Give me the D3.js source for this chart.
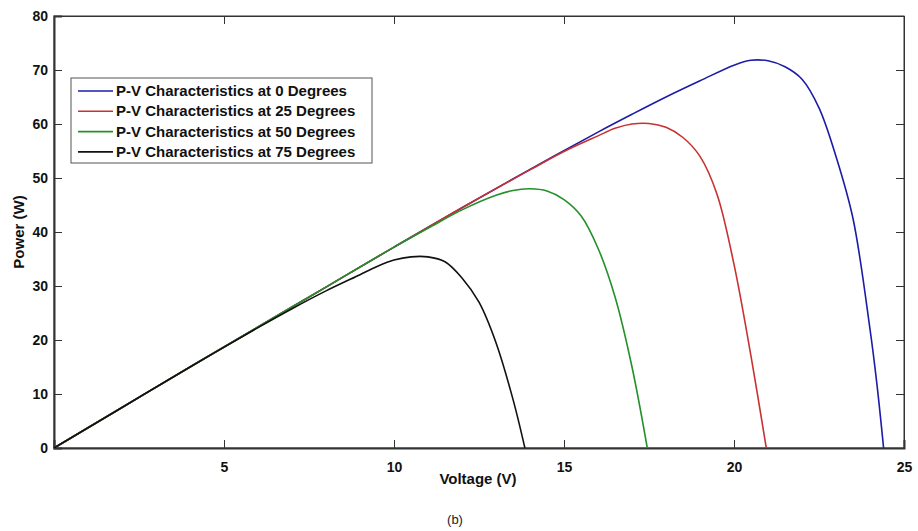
<!DOCTYPE html>
<html><head><meta charset="utf-8">
<script src="https://cdn.jsdelivr.net/npm/d3@7/dist/d3.min.js"></script>
<style>body{margin:0;background:#fff}svg{display:block}text{font-family:"Liberation Sans",Arial,sans-serif}</style>
</head><body><svg id="c" width="918" height="531"></svg>
<script>
const seriesNames = ["P-V Characteristics at 0 Degrees","P-V Characteristics at 25 Degrees","P-V Characteristics at 50 Degrees","P-V Characteristics at 75 Degrees"];
const seriesColors = ["#1c1ca8","#c83232","#23902a","#111111"];
const xTicks = [5,10,15,20,25];
const yTicks = [0,10,20,30,40,50,60,70,80];
const v0 = [0,2,4,6,8,10,12,14,16,17,18,19,20,20.5,21,21.5,22,22.5,23,23.5,24,24.2,24.4];
const p0 = [0,7.5,15,22.4,29.8,37.2,44.5,51.6,58.5,61.8,65,68,70.9,71.8,71.7,70.6,68.3,63,54,42.5,22,12,0];
const v25 = [0,2,4,6,8,10,12,14,15,16,16.5,17,17.5,18,18.5,19,19.5,20,20.5,20.95];
const p25 = [0,7.5,15,22.4,29.8,37.2,44.5,51.5,54.9,57.8,59.2,60,60.1,59.4,57.5,54,47,34,17,0];
const v50 = [0,2,4,6,8,10,11,12,13,13.5,14,14.5,15,15.5,16,16.5,17,17.45];
const p50 = [0,7.5,15,22.4,29.8,37.2,40.7,44.1,46.8,47.7,48,47.6,46,43,37,28,15,0];
const v75 = [0,2,4,6,7,8,9,9.5,10,10.5,11,11.5,12,12.5,13,13.5,13.85];
const p75 = [0,7.5,15,22.3,25.8,29.1,32.1,33.6,34.8,35.4,35.4,34.5,31.5,27,19.5,9,0];
const allV = [v0,v25,v50,v75], allP = [p0,p25,p50,p75];

const svg = d3.select("#c");
const L=54, R=904, T=16, B=448;
const x = d3.scaleLinear().domain([0,25]).range([L,R]);
const y = d3.scaleLinear().domain([0,80]).range([B,T]);
const axCol="#333";

svg.append("rect").attr("x",L).attr("y",T).attr("width",R-L).attr("height",B-T).attr("fill","none").attr("stroke",axCol).attr("stroke-width",1);

const gx = svg.append("g").attr("transform",`translate(0,${B})`)
  .call(d3.axisBottom(x).tickValues(xTicks).tickSize(-8).tickPadding(14).tickFormat(d3.format("d")));
const gxt = svg.append("g").attr("transform",`translate(0,${T})`)
  .call(d3.axisTop(x).tickValues(xTicks).tickSize(-8).tickFormat(""));
const gy = svg.append("g").attr("transform",`translate(${L},0)`)
  .call(d3.axisLeft(y).tickValues(yTicks).tickSize(-8).tickPadding(6).tickFormat(d3.format("d")));
const gyr = svg.append("g").attr("transform",`translate(${R},0)`)
  .call(d3.axisRight(y).tickValues(yTicks).tickSize(-8).tickFormat(""));
[gx,gxt,gy,gyr].forEach(g=>{
  g.select(".domain").attr("stroke",axCol).attr("stroke-width",2);
  g.selectAll(".tick line").attr("stroke",axCol);
  g.selectAll(".tick text").attr("font-size",14).attr("font-weight","bold").attr("fill","#111").attr("font-family","Liberation Sans, Arial, sans-serif");
});
gxt.select(".domain").attr("stroke-width",1);
gyr.select(".domain").attr("stroke-width",1);

const line = d3.line().x(d=>x(d[0])).y(d=>y(d[1])).curve(d3.curveCatmullRom.alpha(0.5));
allV.forEach((vs,i)=>{
  const pts = vs.map((v,j)=>[v,allP[i][j]]);
  svg.append("path").datum(pts).attr("d",line).attr("fill","none")
    .attr("stroke",seriesColors[i]).attr("stroke-width",1.6);
});

svg.append("text").attr("x",478).attr("y",484).attr("text-anchor","middle").attr("font-size",15).attr("font-weight","bold").attr("fill","#111").text("Voltage (V)");
svg.append("text").attr("transform","translate(24,232) rotate(-90)").attr("text-anchor","middle").attr("font-size",15).attr("font-weight","bold").attr("fill","#111").text("Power (W)");
svg.append("text").attr("x",455).attr("y",524).attr("text-anchor","middle").attr("font-size",13).attr("fill","#222").text("(b)");

const lg = svg.append("g");
lg.append("rect").attr("x",71).attr("y",78).attr("width",301).attr("height",85).attr("fill","#fff").attr("stroke","#555").attr("stroke-width",1);
seriesNames.forEach((n,i)=>{
  const yy = 91+i*20.3;
  lg.append("line").attr("x1",78).attr("x2",113).attr("y1",yy).attr("y2",yy).attr("stroke",seriesColors[i]).attr("stroke-width",1.6);
  lg.append("text").attr("x",116).attr("y",yy+5).attr("font-size",15).attr("font-weight","bold").attr("fill","#111").text(n);
});
</script></body></html>
